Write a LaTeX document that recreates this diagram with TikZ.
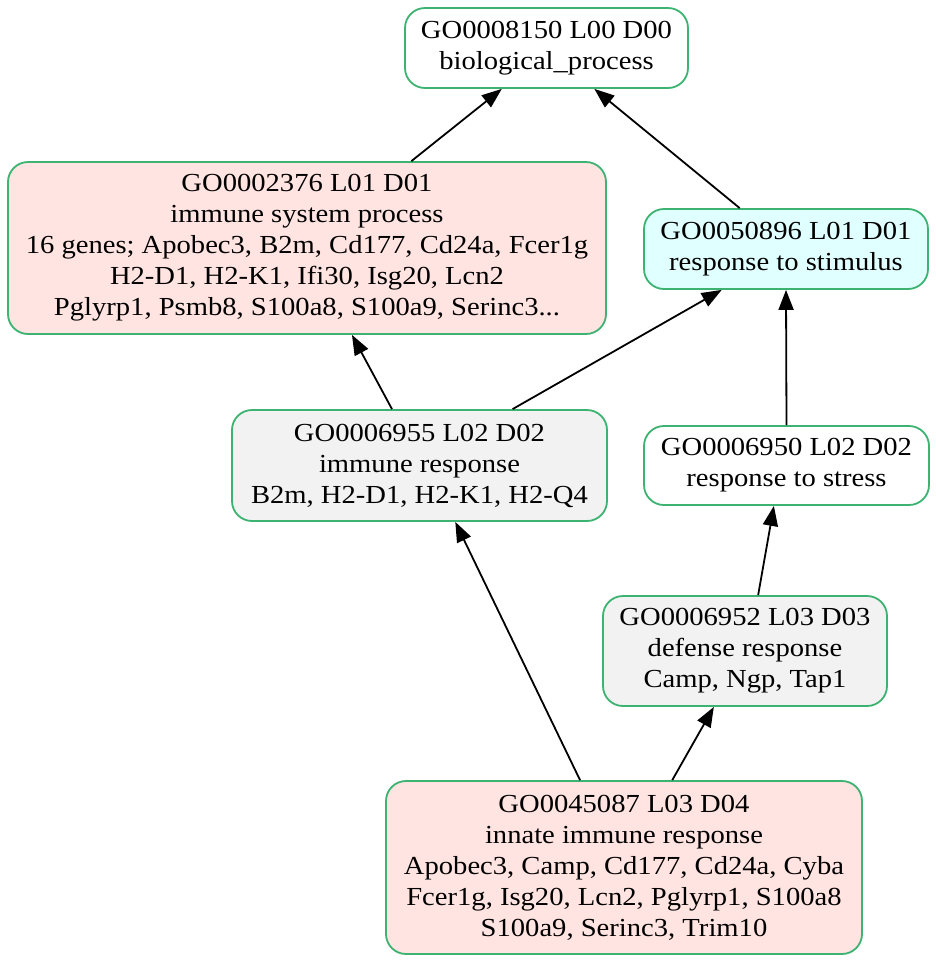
\documentclass[tikz,border=0pt]{standalone}
\usepackage{fontspec}
\setmainfont{Liberation Serif}[FakeStretch=1.1]
\usetikzlibrary{arrows.meta,calc}
\definecolor{bordergreen}{HTML}{3CB371}
\definecolor{pinkfill}{HTML}{FFE4E1}
\definecolor{cyanfill}{HTML}{E0FFFF}
\definecolor{grayfill}{HTML}{F2F2F2}
\definecolor{whitefill}{HTML}{FFFFFF}
\tikzset{
  gobox/.style={draw=bordergreen, line width=1.8pt, rounded corners=20pt,
    rectangle, align=center, inner sep=0pt,
    font=\fontsize{26}{31}\selectfont},
  edge/.style={draw=black, line width=1.8pt, -{Triangle[length=20pt,width=15pt]}}
}
\begin{document}
\begin{tikzpicture}[x=1pt,y=-1pt]
\useasboundingbox (0,0) rectangle (936,962);
\fill[white] (0,0) rectangle (936,962);

\node[gobox, fill=whitefill, minimum width=283pt, minimum height=80pt] (n1) at (546.5,48)
  {GO0008150 L00 D00\\biological\_process};
\node[gobox, fill=pinkfill, minimum width=598pt, minimum height=172pt] (n2) at (307,248)
  {GO0002376 L01 D01\\immune system process\\16 genes; Apobec3, B2m, Cd177, Cd24a, Fcer1g\\H2-D1, H2-K1, Ifi30, Isg20, Lcn2\\Pglyrp1, Psmb8, S100a8, S100a9, Serinc3...};
\node[gobox, fill=cyanfill, minimum width=284pt, minimum height=80pt] (n3) at (786,249)
  {GO0050896 L01 D01\\response to stimulus};
\node[gobox, fill=grayfill, minimum width=375pt, minimum height=111pt] (n4) at (419.5,465.5)
  {GO0006955 L02 D02\\immune response\\B2m, H2-D1, H2-K1, H2-Q4};
\node[gobox, fill=whitefill, minimum width=285pt, minimum height=79pt] (n5) at (786.5,465.5)
  {GO0006950 L02 D02\\response to stress};
\node[gobox, fill=grayfill, minimum width=284pt, minimum height=110pt] (n6) at (745,651)
  {GO0006952 L03 D03\\defense response\\Camp, Ngp, Tap1};
\node[gobox, fill=pinkfill, minimum width=476pt, minimum height=173pt] (n7) at (624,867.5)
  {GO0045087 L03 D04\\innate immune response\\Apobec3, Camp, Cd177, Cd24a, Cyba\\Fcer1g, Isg20, Lcn2, Pglyrp1, S100a8\\S100a9, Serinc3, Trim10};

% edge end points on the borders
\coordinate (e1s) at ($(n2.north west)!0.674!(n2.north east)$);
\coordinate (e1t) at ($(n1.south west)!0.343!(n1.south east)$);
\coordinate (e2s) at ($(n3.north west)!0.338!(n3.north east)$);
\coordinate (e2t) at ($(n1.south west)!0.668!(n1.south east)$);
\coordinate (e3s) at ($(n4.north west)!0.427!(n4.north east)$);
\coordinate (e3t) at ($(n2.south west)!0.575!(n2.south east)$);
\coordinate (e4s) at ($(n4.north west)!0.747!(n4.north east)$);
\coordinate (e4t) at ($(n3.south west)!0.275!(n3.south east)$);
\coordinate (e6s) at ($(n6.north west)!0.546!(n6.north east)$);
\coordinate (e6t) at ($(n5.south west)!0.456!(n5.south east)$);
\coordinate (e7s) at ($(n7.north west)!0.408!(n7.north east)$);
\coordinate (e7t) at ($(n4.south west)!0.595!(n4.south east)$);
\coordinate (e8s) at ($(n7.north west)!0.601!(n7.north east)$);
\coordinate (e8t) at ($(n6.south west)!0.391!(n6.south east)$);

\draw[edge] (e1s) -- (e1t);
\draw[edge] (e2s) -- (e2t);
\draw[edge] (e3s) -- (e3t);
\draw[edge] (e4s) -- (e4t);
\draw[edge] (n5.north) -- (n3.south);
\draw[edge] (e6s) -- (e6t);
\draw[edge] (e7s) -- (e7t);
\draw[edge] (e8s) -- (e8t);
\end{tikzpicture}
\end{document}
